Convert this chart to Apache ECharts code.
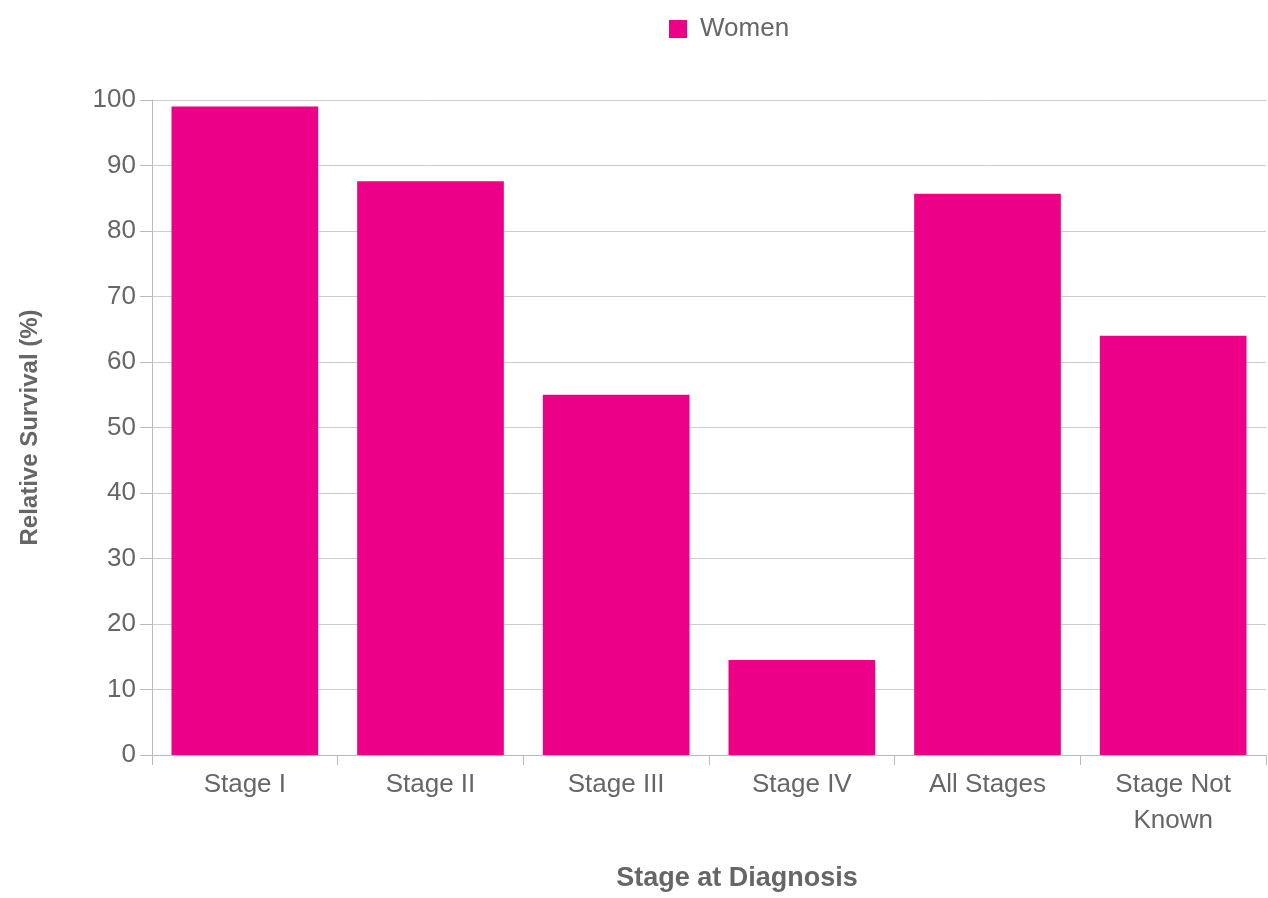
<!DOCTYPE html>
<html>
<head>
<meta charset="utf-8">
<script src="https://cdn.jsdelivr.net/npm/echarts@6/dist/echarts.min.js"></script>
<style>
html,body{margin:0;padding:0;background:#fff;}
#bar{width:1268px;height:898px;}
</style>
</head>
<body>
<div id="bar"></div>
<script>
var stages = ['Stage I','Stage II','Stage III','Stage IV','All Stages','Stage Not\nKnown']
var women = [99, 87.6, 55, 14.5, 85.7, 64]
var yTicks = [0, 100, 10]   // min, max, interval

function drawBar(cats,datas){
	var option = {
		textStyle: {fontFamily: 'Liberation Sans, Arial, sans-serif'},
		legend: {
			top: 11,
			left: 664,
			itemWidth: 18,
			itemHeight: 18,
			icon: 'rect',
			textStyle: {fontSize: 26, color: '#666', padding: [0,0,0,8]},
			data: ['Women']
		},
		grid: {left: 152, right: 2, top: 100, bottom: 143, containLabel: false},
		xAxis: {
			type: 'category',
			data: cats,
			name: 'Stage at Diagnosis',
			nameLocation: 'middle',
			nameGap: 110,
			nameTextStyle: {fontSize: 27, fontWeight: 'bold', color: '#666', padding: [0,0,0,56]},
			axisLine: {lineStyle: {color: '#bbb'}},
			axisTick: {show: true, length: 10, lineStyle: {color: '#bbb'}},
			axisLabel: {fontSize: 26, color: '#666', margin: 12, lineHeight: 36}
		},
		yAxis: {
			type: 'value',
			min: yTicks[0],
			max: yTicks[1],
			interval: yTicks[2],
			name: 'Relative Survival (%)',
			nameLocation: 'middle',
			nameGap: 110,
			nameTextStyle: {fontSize: 24, fontWeight: 'bold', color: '#666'},
			axisLine: {show: true, lineStyle: {color: '#bbb'}},
			axisTick: {show: true, length: 12, lineStyle: {color: '#bbb'}},
			axisLabel: {fontSize: 26, color: '#666', margin: 16},
			splitLine: {lineStyle: {color: '#ccc'}}
		},
		series: [{
			name: 'Women',
			type: 'bar',
			data: datas,
			barCategoryGap: '21%',
			itemStyle: {color: '#EC0088'}
		}]
	};
	var myChart = echarts.init(document.getElementById('bar'));
	myChart.setOption(option);
}
drawBar(stages,women)
</script>
</body>
</html>
